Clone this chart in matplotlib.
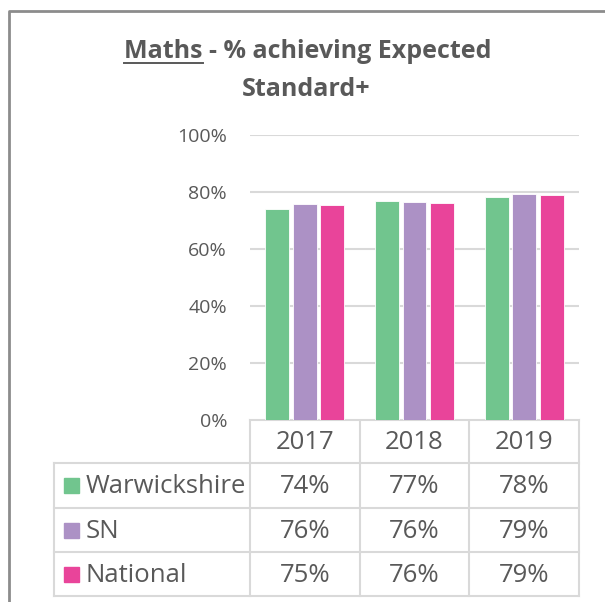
import matplotlib.pyplot as plt
import numpy as np
from matplotlib.patches import Rectangle

years = ['2017', '2018', '2019']
series = ['Warwickshire', 'SN', 'National']
warwickshire = [74.1, 77.0, 78.1]
sn = [75.9, 76.4, 79.4]
national = [75.4, 76.1, 78.8]
colors = ['#71C58E', '#AC91C5', '#E9449A']

W, H = 605, 602
TXT = '#595959'
GRID = '#D9D9D9'
plt.rcParams['font.family'] = ['Open Sans', 'DejaVu Sans']

fig = plt.figure(figsize=(W / 100, H / 100), dpi=100)

# overlay in pixel coordinates for border, title and data table
ov = fig.add_axes([0, 0, 1, 1])
ov.set_xlim(0, W)
ov.set_ylim(H, 0)
ov.axis('off')

# chart border
ov.plot([9, 9, W + 5], [H + 5, 11, 11], color='#8C8C8C', lw=2, solid_capstyle='butt')

# plot area
x0, x1, y0, y1 = 250, 579, 420, 135
ax = fig.add_axes([x0 / W, (H - y0) / H, (x1 - x0) / W, (y0 - y1) / H])
x = np.arange(len(years))
bw = 0.218
for i, (vals, c) in enumerate(zip([warwickshire, sn, national], colors)):
    ax.bar(x + (i - 1) * 0.25, vals, bw, color=c, edgecolor='white', linewidth=0.6, zorder=3)
ax.set_xlim(-0.5, 2.5)
ax.set_ylim(0, 100)
ax.set_yticks(range(0, 101, 20))
ax.set_yticklabels([f'{v}%' for v in range(0, 101, 20)])
ax.tick_params(axis='y', length=0, pad=16.5, labelsize=14, labelcolor=TXT)
ax.set_xticks([])
ax.grid(axis='y', color=GRID, lw=1.5, zorder=0)
for s in ax.spines.values():
    s.set_visible(False)

# title with underlined "Maths"
line1 = 'Maths - % achieving Expected'
tprops = dict(fontsize=18, fontweight='bold', color=TXT, va='baseline')
t1 = ov.text(308, 58, line1, ha='center', **tprops)
ov.text(306, 96, 'Standard+', ha='center', **tprops)
fig.canvas.draw()
r = fig.canvas.get_renderer()
bb = t1.get_window_extent(r)
tmp = ov.text(0, 0, 'Maths', **tprops)
wm = tmp.get_window_extent(r).width
tmp.remove()
ov.plot([bb.x0, bb.x0 + wm], [63, 63], color=TXT, lw=1.4)

# data table
cols = [250, 360, 469, 579]
rows = [420, 463, 508, 552, 596]
tleft = 54
lw = 1.5
fs = 18.5
ov.plot([cols[0], cols[-1]], [rows[0], rows[0]], color=GRID, lw=lw)
for yy in rows[1:]:
    ov.plot([tleft, cols[-1]], [yy, yy], color=GRID, lw=lw)
for xx in cols:
    ov.plot([xx, xx], [rows[0], rows[-1]], color=GRID, lw=lw)
ov.plot([tleft, tleft], [rows[1], rows[-1]], color=GRID, lw=lw)

for j, yr in enumerate(years):
    ov.text((cols[j] + cols[j + 1]) / 2, (rows[0] + rows[1]) / 2 + 1, yr,
            ha='center', va='center', fontsize=fs, color=TXT)

for i, (name, vals, c) in enumerate(zip(series, [warwickshire, sn, national], colors)):
    yc = (rows[i + 1] + rows[i + 2]) / 2
    ov.add_patch(Rectangle((64, yc - 7.5), 15, 15, color=c))
    ov.text(86, yc + 1, name, ha='left', va='center', fontsize=fs, color=TXT)
    for j, v in enumerate(vals):
        ov.text((cols[j] + cols[j + 1]) / 2, yc + 1, f'{v:.0f}%',
                ha='center', va='center', fontsize=fs, color=TXT)

fig.savefig('out.png', dpi=100)
